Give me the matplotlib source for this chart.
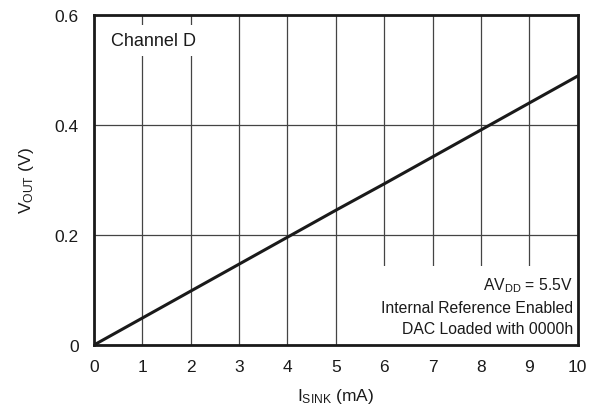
import matplotlib.pyplot as plt

plt.rcParams['font.family'] = ['Liberation Sans', 'DejaVu Sans']
plt.rcParams['mathtext.default'] = 'regular'

# I_SINK (mA) vs V_OUT (V)
i_sink = [0, 1, 2, 3, 4, 5, 6, 7, 8, 9, 10]
v_out = [0.0, 0.049, 0.098, 0.147, 0.196, 0.245, 0.293, 0.342, 0.391, 0.440, 0.489]
x_ticks = [0, 1, 2, 3, 4, 5, 6, 7, 8, 9, 10]
y_ticks = [0, 0.2, 0.4, 0.6]
y_labels = ['0', '0.2', '0.4', '0.6']

fig = plt.figure(figsize=(5.98, 4.10), dpi=100)
ax = fig.add_axes([0.157, 0.156, 0.809, 0.805])

ax.plot(i_sink, v_out, color='#1a1a1a', linewidth=2.2, zorder=4)

ax.set_xlim(0, 10)
ax.set_ylim(0, 0.6)
ax.set_xticks(x_ticks)
ax.set_yticks(y_ticks)
ax.set_yticklabels(y_labels)
ax.tick_params(length=0, labelsize=12.5, colors='#1a1a1a')
ax.tick_params(axis='x', pad=10)
ax.tick_params(axis='y', pad=11)
ax.grid(True, color='#444444', linewidth=0.9, zorder=1)
for s in ax.spines.values():
    s.set_linewidth(2.0)
    s.set_color('#1a1a1a')
    s.set_zorder(5)

ax.set_xlabel('$I_{SINK}$ (mA)', fontsize=12.5, labelpad=9, color='#1a1a1a')
ax.set_ylabel('$V_{OUT}$ (V)', fontsize=12.5, labelpad=13, color='#1a1a1a')

ax.text(0.36, 0.553, 'Channel D', fontsize=13, ha='left', va='center',
        color='#1a1a1a', bbox=dict(facecolor='white', edgecolor='none', pad=5), zorder=3)
ax.text(9.9, 0.016, '$AV_{DD}$ = 5.5V\nInternal Reference Enabled\nDAC Loaded with 0000h',
        fontsize=11.3, ha='right', va='bottom', multialignment='right',
        color='#1a1a1a', linespacing=1.5,
        bbox=dict(facecolor='white', edgecolor='none', pad=6), zorder=3)

fig.savefig('out.png', dpi=100)
